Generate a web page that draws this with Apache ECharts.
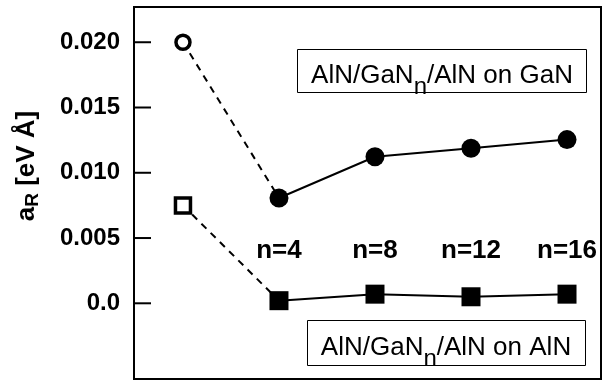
<!DOCTYPE html>
<html>
<head>
<meta charset="utf-8">
<script src="https://cdn.jsdelivr.net/npm/echarts@6/dist/echarts.min.js"></script>
<style>html,body{margin:0;padding:0;background:#fff}#c{width:603px;height:382px}</style>
</head>
<body>
<div id="c"></div>
<script>
// ---- data ----
var xIndex = [0, 1, 2, 3, 4];
var onGaN = [0.0200, 0.00807, 0.01123, 0.01188, 0.01254];
var onAlN = [0.0075, 0.0002, 0.0007, 0.0005, 0.0007];
var nLabels = ['', 'n=4', 'n=8', 'n=12', 'n=16'];
var nLabelValue = 0.0040;
var yTicks = [0, 0.005, 0.010, 0.015, 0.020];
var yTickLabels = ['0.0', '0.005', '0.010', '0.015', '0.020'];

var FONT = 'Liberation Sans, Arial, sans-serif';
var X_MIN = -0.51, X_MAX = 4.354;
function pts(arr, from, to) {
  var out = [];
  for (var i = from; i <= to; i++) out.push([xIndex[i], arr[i]]);
  return out;
}
var labelPts = [];
for (var i = 1; i < xIndex.length; i++) labelPts.push({value: [xIndex[i], nLabelValue], name: nLabels[i]});
var tickPts = yTicks.map(function (v) { return [X_MIN, v]; });

var chart = echarts.init(document.getElementById('c'), null, {renderer: 'canvas'});
chart.setOption({
  animation: false,
  grid: {left: 134, right: 2, top: 7, bottom: 3, show: true, borderColor: '#000', borderWidth: 2, backgroundColor: 'transparent'},
  xAxis: {type: 'value', min: X_MIN, max: X_MAX, show: false},
  yAxis: {
    type: 'value', min: -0.0058, max: 0.0227, position: 'left',
    splitLine: {show: false},
    axisLine: {show: false, onZero: false},
    axisTick: {show: false},
    axisLabel: {
      customValues: yTicks, margin: 14, color: '#000', fontSize: 24, fontWeight: 'bold', fontFamily: FONT,
      formatter: function (v) {
        for (var k = 0; k < yTicks.length; k++) if (Math.abs(yTicks[k] - v) < 1e-9) return yTickLabels[k];
        return '';
      }
    }
  },
  graphic: [
    {type: 'text', x: 27, y: 166, rotation: Math.PI / 2,
     style: {text: '{a|a}{s|R}{a| [eV Å]}', x: 0, y: 0, align: 'center', verticalAlign: 'middle',
       rich: {a: {fontSize: 26, fontWeight: 'bold', fontFamily: FONT, fill: '#000'},
              s: {fontSize: 19, fontWeight: 'bold', fontFamily: FONT, fill: '#000', padding: [12, 0, 0, 0]}}}},
    {type: 'rect', shape: {x: 297.5, y: 49.5, width: 289, height: 43}, style: {fill: '#fff', stroke: '#000', lineWidth: 1}},
    {type: 'text', x: 442, y: 76,
     style: {text: '{a|AlN/GaN}{s|n}{a|/AlN on GaN}', align: 'center', verticalAlign: 'middle',
       rich: {a: {fontSize: 26, fontFamily: FONT, fill: '#000'}, s: {fontSize: 24, fontFamily: FONT, fill: '#000', padding: [22, 0, 0, 0]}}}},
    {type: 'rect', shape: {x: 307.5, y: 320.5, width: 278, height: 45}, style: {fill: '#fff', stroke: '#000', lineWidth: 1}},
    {type: 'text', x: 446, y: 348,
     style: {text: '{a|AlN/GaN}{s|n}{a|/AlN on AlN}', align: 'center', verticalAlign: 'middle',
       rich: {a: {fontSize: 26, fontFamily: FONT, fill: '#000'}, s: {fontSize: 24, fontFamily: FONT, fill: '#000', padding: [22, 0, 0, 0]}}}}
  ],
  series: [
    {type: 'custom', data: tickPts, silent: true, z: 1,
     renderItem: function (params, api) {
       var p = api.coord([api.value(0), api.value(1)]);
       return {type: 'line', shape: {x1: p[0], y1: p[1], x2: p[0] + 17, y2: p[1]}, style: {stroke: '#000', lineWidth: 2}};
     }},
    {type: 'line', data: pts(onGaN, 0, 1), symbol: 'none', lineStyle: {color: '#000', width: 2, type: [7, 6]}, z: 2},
    {type: 'line', data: pts(onAlN, 0, 1), symbol: 'none', lineStyle: {color: '#000', width: 2, type: [7, 6]}, z: 2},
    {type: 'line', data: pts(onGaN, 1, 4), symbol: 'circle', symbolSize: 19, itemStyle: {color: '#000'}, lineStyle: {color: '#000', width: 2}, z: 3},
    {type: 'line', data: pts(onAlN, 1, 4), symbol: 'rect', symbolSize: 19, itemStyle: {color: '#000'}, lineStyle: {color: '#000', width: 2}, z: 3},
    {type: 'scatter', data: pts(onGaN, 0, 0), symbol: 'circle', symbolSize: 14, itemStyle: {color: '#fff', borderColor: '#000', borderWidth: 3.5, opacity: 1}, z: 4},
    {type: 'scatter', data: pts(onAlN, 0, 0), symbol: 'rect', symbolSize: 15, itemStyle: {color: '#fff', borderColor: '#000', borderWidth: 3.5, opacity: 1}, z: 4},
    {type: 'scatter', data: labelPts, symbolSize: 0, silent: true, itemStyle: {opacity: 1},
     label: {show: true, position: 'inside', formatter: '{b}', color: '#000', fontSize: 26, fontWeight: 'bold', fontFamily: FONT}, z: 5}
  ]
});
</script>
</body>
</html>
